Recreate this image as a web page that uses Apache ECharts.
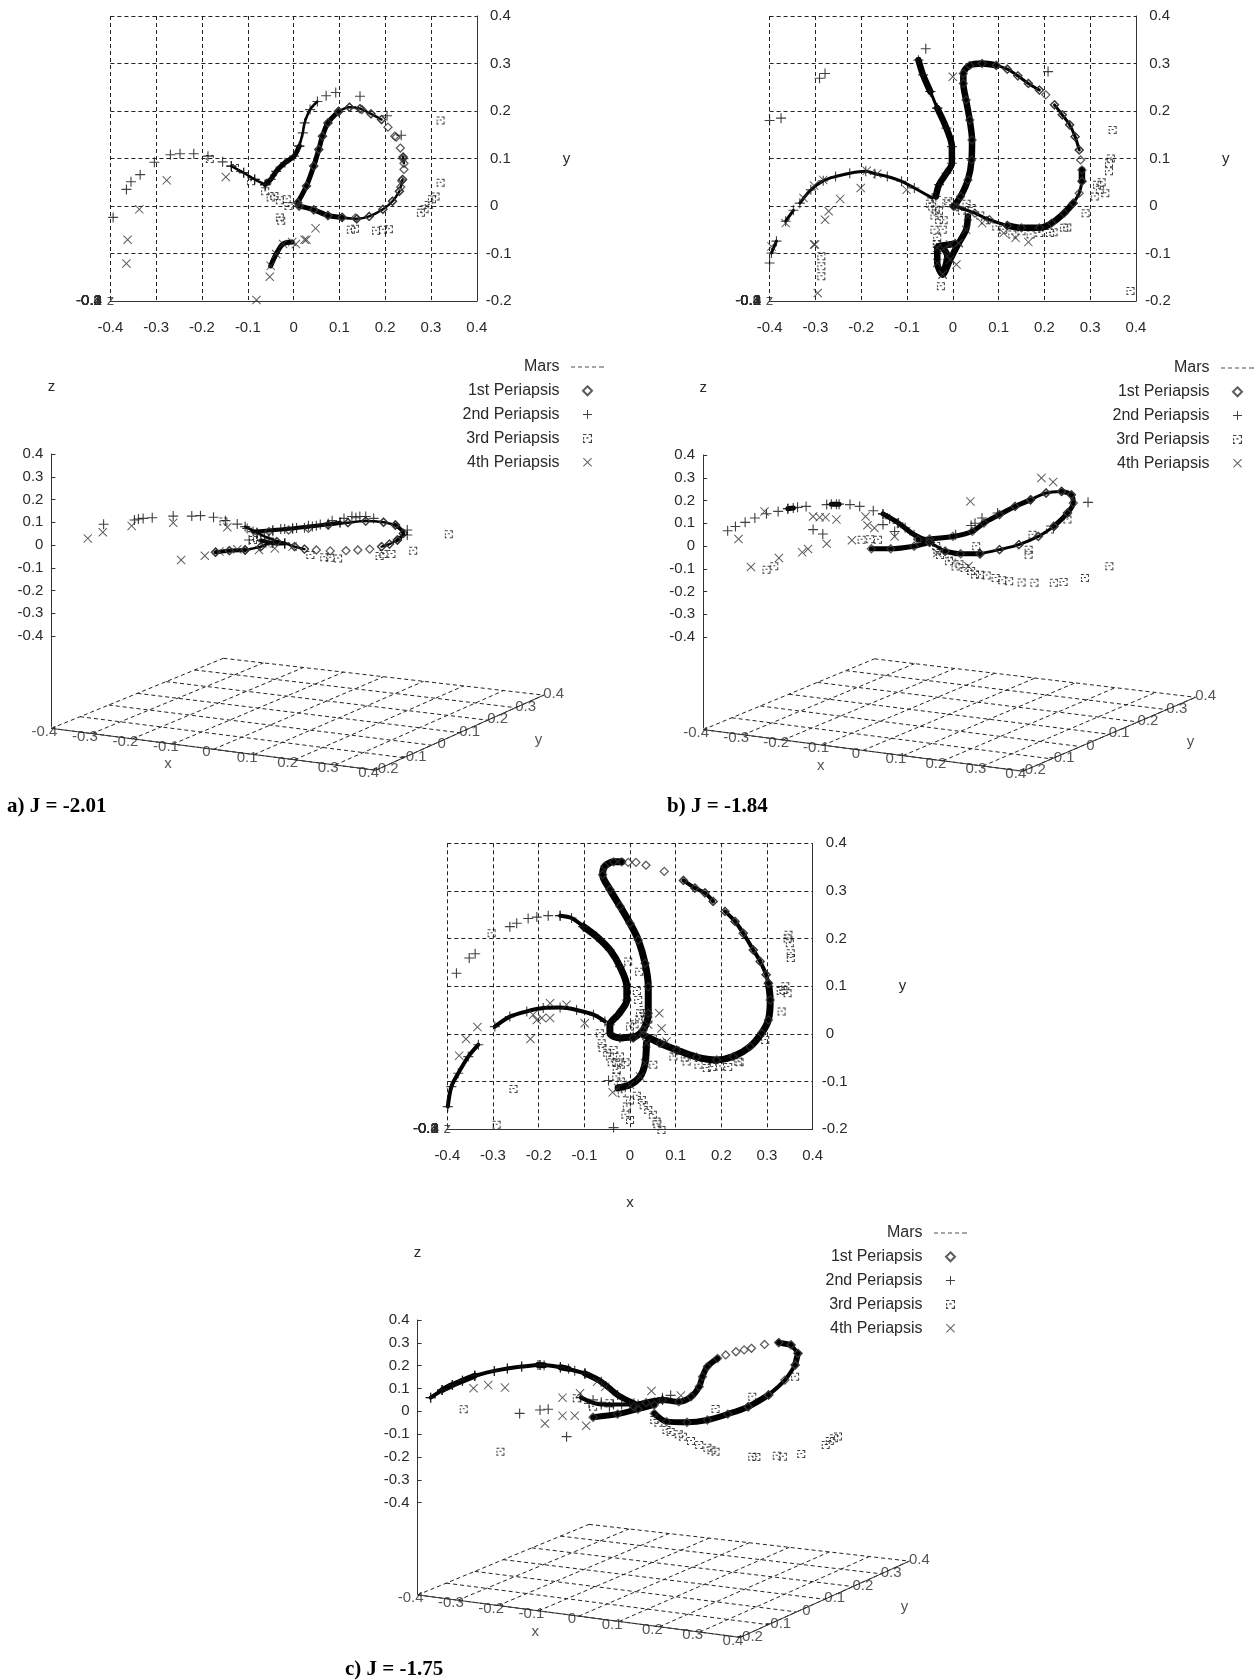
<!DOCTYPE html>
<html><head><meta charset="utf-8">
<script src="https://cdn.jsdelivr.net/npm/echarts@6/dist/echarts.min.js"></script>
<style>html,body{margin:0;padding:0;background:#fff}#c{width:1259px;height:1680px}</style></head>
<body><div id="c"></div>
<script>
const seriesNames = ['Mars','1st Periapsis','2nd Periapsis','3rd Periapsis','4th Periapsis'];
const titles = ['a) J = -2.01','b) J = -1.84','c) J = -1.75'];
const xTicks = [-0.4,-0.3,-0.2,-0.1,0,0.1,0.2,0.3,0.4];
const yTicks = [-0.2,-0.1,0,0.1,0.2,0.3,0.4];
const zTicks = [-0.4,-0.3,-0.2,-0.1,0,0.1,0.2,0.3,0.4];

/* ---- J = -2.01, top view (x, y) ---- */
const aXY1 = [[.009,.007],[.028,.042],[.044,.084],[.055,.119],[.063,.147],[.075,.175],[.098,.199],[.122,.208],[.145,.205],[.149,.203],[.169,.194],[.192,.182],[.206,.166],[.221,.147],[.224,.145],[.233,.122],[.239,.103],[.239,.1],[.241,.077],[.238,.056],[.236,.053],[.231,.031],[.216,.010],[.195,-.007],[.165,-.022],[.138,-.027],[.135,-.025],[.106,-.024],[.075,-.020],[.044,-.008],[.012,0]];
const aXY1Runs = [[[.009,.007],[.028,.042],[.044,.084],[.055,.119],[.063,.147],[.075,.175],[.098,.199]],[[.012,0],[.044,-.008],[.075,-.020],[.106,-.024]]];
const aXY1Thin = [[[.106,-.024],[.138,-.027],[.165,-.022],[.195,-.007],[.216,.010],[.231,.031]],[[.098,.199],[.122,.208],[.145,.205],[.169,.194],[.192,.182]],[[.239,.103],[.241,.09]],[[.238,.056],[.234,.04]]];
const aXY2 = [[-.394,-.024],[-.365,.035],[-.355,.051],[-.335,.066],[-.304,.092],[-.269,.108],[-.248,.110],[-.218,.110],[-.187,.105],[-.155,.093],[-.136,.084],[-.109,.070],[-.085,.056],[-.062,.045],[.071,.232],[.092,.239],[.145,.231],[.204,.19],[.235,.149]];
const aXY2Runs = [[[-.062,.045],[-.05,.056],[-.038,.073],[-.019,.091],[.001,.105],[.0125,.126]]];
const aXY2Thin = [[[-.136,.084],[-.109,.070],[-.085,.056],[-.062,.045]],[[.0125,.126],[.02,.154],[.024,.175],[.036,.203],[.052,.22]]];
const aXY3 = [[.321,.18],[.321,.049],[.302,.014],[.286,-.007],[.278,-.014],[.208,-.049],[.18,-.052],[.134,-.048],[-.027,-.031],[-.011,0],[-.015,.014],[-.042,.021],[-.062,.031],[-.093,.052],[-.128,.08],[-.183,.099],[-.05,.018],[-.03,.012],[.31,.02],[.295,.002],[.125,-.05],[.195,-.05],[-.03,-.024]];
const aXY3Runs = [];
const aXY3Thin = [];
const aXY4 = [[-.277,.054],[-.148,.061],[-.337,-.007],[-.3625,-.071],[-.365,-.121],[-.052,-.149],[-.081,-.198],[.048,-.047],[.028,-.071],[.005,-.08],[.024,-.071]];
const aXY4Runs = [[[-.05,-.126],[-.038,-.101],[-.023,-.08],[-.003,-.076]]];
const aXY4Thin = [];

/* ---- J = -2.01, oblique view (screen position along the plot, z) ---- */
const aZ1 = [[890,.051],[875,.022],[855,.004],[835,-.007],[805,-.018],[775,-.022],[745,-.025],[705,-.026],[670,-.022],[640,-.018],[615,-.007],[870,.088],[840,.1],[795,.105],[750,.098],[700,.088],[650,.073],[600,.066],[550,.059],[415,-.032],[450,-.025],[490,-.022],[530,-.007],[570,.015]];
const aZ1Runs = [[[415,-.032],[450,-.025],[490,-.022]],[[870,.088],[890,.051],[875,.022]]];
const aZ1Thin = [[[870,.088],[840,.1],[795,.105],[750,.098],[700,.088]],[[490,-.022],[530,-.007],[570,.015],[615,-.007],[640,-.018]],[[875,.022],[855,.004],[835,-.007]]];
const aZ2 = [[132,.091],[210,.11],[220,.114],[232,.117],[255,.12],[308,.127],[355,.127],[377,.129],[410,.122],[440,.107],[470,.092],[495,.073],[520,.054],[500,.022],[560,.066],[580,.07],[610,.073],[640,.076],[660,.081],[710,.107],[740,.117],[760,.125],[795,.125],[815,.117],[900,.066],[900,.044],[550,.015],[590,.007],[560,.06],[590,.07],[620,.075],[650,.085],[680,.09],[700,.095],[730,.1],[770,.12],[780,.125]];
const aZ2Runs = [[[510,.059],[610,.073],[670,.085],[730,.098]],[[530,.02],[560,.008],[590,.007]]];
const aZ2Thin = [[[490,.081],[520,.054],[550,.03],[590,.007]]];
const aZ3 = [[1005,.047],[915,-.025],[860,-.04],[830,-.048],[725,-.059],[690,-.054],[655,-.044],[510,.022],[530,.037],[550,.007],[435,.103],[840,-.04],[705,-.056],[520,.03]];
const aZ3Runs = [];
const aZ3Thin = [];
const aZ4 = [[92,.029],[130,.056],[203,.084],[308,.098],[445,.078],[328,-.066],[388,-.047],[425,-.029],[470,-.019],[525,-.022],[565,-.015],[610,-.007]];
const aZ4Runs = [];
const aZ4Thin = [];

/* ---- J = -1.84, top view ---- */
const bXY1 = [[.119,.288],[.142,.274],[.165,.258],[.189,.244],[.203,.234],[.222,.213],[.239,.192],[.255,.171],[.267,.146],[.276,.118],[.279,.097]];
const bXY1Runs = [[[.002,-.001],[.017,.02],[.033,.055],[.041,.097],[.042,.139],[.037,.181],[.029,.223],[.023,.258],[.023,.279],[.037,.296],[.064,.30],[.095,.296]],[[.282,.076],[.282,.052]],[[.263,.006],[.243,-.015],[.216,-.036],[.189,-.046],[.15,-.046],[.119,-.041]]];
const bXY1Thin = [[[.095,.296],[.119,.288],[.142,.274],[.165,.258],[.189,.244]],[[.222,.213],[.239,.192],[.255,.171],[.267,.146],[.276,.118]],[[.282,.052],[.276,.027],[.263,.006]],[[.119,-.041],[.08,-.029],[.048,-.015],[.009,-.002]]];
const bXY2 = [[-.059,.331],[-.279,.279],[-.291,.269],[.208,.283],[-.40,.18],[-.375,.185],[-.40,-.12]];
const bXY2Runs = [[[-.075,.307],[-.065,.276],[-.049,.241]],[[-.034,.206],[-.014,.164],[-.002,.125],[-.002,.09],[-.014,.069],[-.03,.045],[-.037,.02]]];
const bXY2Thin = [[[-.049,.241],[-.034,.206]],[[-.045,.017],[-.084,.038],[-.112,.052],[-.143,.062],[-.17,.068],[-.19,.073],[-.225,.069],[-.256,.062],[-.283,.053],[-.31,.034],[-.334,.006]],[[-.348,-.009],[-.365,-.032]],[[-.385,-.074],[-.396,-.099]]];
const bXY3 = [[.349,.16],[.341,.09],[.341,.073],[.321,.034],[.31,.02],[.29,-.015],[.243,-.046],[.212,-.057],[.189,-.057],[-.026,-.169],[.388,-.179],[-.287,-.106],[-.287,-.127],[-.287,-.148],[-.037,-.008],[-.03,-.029],[-.022,-.05],[-.034,-.067],[-.045,-.001],[-.014,.006],[.041,-.004],[.095,-.043],[.15,-.053],[.333,.027],[-.04,-.02],[-.05,.005],[-.03,-.01],[-.02,-.03],[-.01,.01],[.02,-.01],[.03,.005],[-.04,-.05],[-.035,-.08],[.06,-.02],[.07,-.03],[.11,-.05],[.13,-.06],[.17,-.06],[.22,-.055],[.25,-.045],[.315,.045],[.325,.05],[.345,.1]];
const bXY3Runs = [];
const bXY3Thin = [];
const bXY4 = [[0,.272],[-.303,-.081],[-.301,-.081],[-.188,.074],[-.165,.068],[-.201,.038],[-.246,.015],[-.271,-.011],[-.279,-.029],[-.295,-.183],[.008,-.123],[.165,-.076],[.137,-.067],[.111,-.057],[.064,-.036],[-.101,.034],[-.283,.055],[-.303,.043],[-.326,.017],[-.365,-.036],[-.396,-.085]];
const bXY4Runs = [[[.033,-.022],[.029,-.05],[.013,-.078],[-.006,-.113],[-.022,-.144],[-.034,-.12],[-.034,-.088],[-.006,-.081],[.013,-.078]],[[-.022,-.144],[-.012,-.105],[-.02,-.09]]];
const bXY4Thin = [];

/* ---- J = -1.84, oblique view ---- */
const bZ1 = [[763,.138],[803,.174],[843,.203],[883,.233],[923,.24],[948,.225],[938,.145],[903,.086],[863,.042],[813,.006],[763,-.016],[713,-.034]];
const bZ1Runs = [[[433,-.012],[483,-.012],[543,-.001],[583,.016]],[[623,-.023],[663,-.034],[713,-.034]],[[903,.086],[938,.145],[953,.189],[948,.225],[923,.24]],[[843,.203],[803,.174],[763,.138],[723,.101],[693,.064],[643,.042],[583,.031],[553,.028]]];
const bZ1Thin = [[[583,.016],[623,-.023]],[[713,-.034],[763,-.016],[813,.006],[863,.042],[903,.086]],[[923,.24],[883,.233],[843,.203]]];
const bZ2 = [[63,.067],[83,.086],[108,.104],[133,.123],[163,.142],[193,.152],[218,.164],[243,.17],[265,.174],[318,.182],[343,.184],[378,.182],[403,.174],[438,.155],[991,.192],[283,.072],[308,.053],[718,.123],[758,.145],[463,.094],[493,.064],[463,.141],[480,.12],[500,.1],[520,.08],[650,.05],[690,.09],[700,.1]];
const bZ2Runs = [[[463,.141],[503,.101],[543,.05],[583,.02]],[[218,.164],[232,.167]],[[330,.183],[350,.184]]];
const bZ2Thin = [];
const bZ3 = [[163,-.104],[183,-.089],[408,.028],[838,-.016],[838,-.038],[703,-.001],[1046,-.089],[983,-.141],[928,-.158],[903,-.162],[853,-.162],[788,-.155],[753,-.141],[713,-.126],[673,-.097],[633,-.067],[603,-.016],[938,.116],[848,.05],[893,.072],[600,0],[640,-.05],[660,-.08],[690,-.11],[730,-.13],[770,-.15],[820,-.16],[610,-.04],[650,-.09],[700,-.125],[430,.03],[450,.028]];
const bZ3Runs = [];
const bZ3Thin = [];
const bZ4 = [[91,.031],[123,-.092],[195,-.053],[255,-.028],[270,-.013],[318,.01],[383,.025],[158,.152],[283,.13],[300,.126],[315,.126],[343,.116],[418,.13],[423,.091],[441,.079],[493,.042],[688,.196],[871,.299],[901,.281],[683,-.089],[603,-.031]];
const bZ4Runs = [];
const bZ4Thin = [];

/* ---- J = -1.75, top view ---- */
const cXY1 = [[-.004,.36],[.013,.36],[.035,.354],[.075,.341],[.117,.322],[.142,.306],[.164,.296],[.182,.278],[.208,.257],[.23,.236],[.248,.211],[.27,.176],[.285,.152],[.298,.124]];
const cXY1Runs = [[[.007,-.009],[.029,.008],[.04,.043],[.04,.099],[.033,.148],[.018,.197],[0,.232],[-.022,.268],[-.044,.303],[-.06,.334],[-.055,.352],[-.036,.361],[-.018,.361]],[[.303,.106],[.307,.071],[.303,.029],[.288,.001],[.263,-.027],[.226,-.048],[.19,-.055],[.146,-.049],[.102,-.034],[.066,-.02],[.029,-.002]]];
const cXY1Thin = [[[.117,.322],[.142,.306],[.164,.296],[.182,.278]],[[.208,.257],[.23,.236],[.248,.211],[.27,.176],[.285,.152],[.298,.124],[.303,.106]]];
const cXY2 = [[-.38,.127],[-.352,.159],[-.339,.168],[-.263,.225],[-.248,.232],[-.223,.242],[-.204,.245],[-.179,.248],[-.153,.248],[-.036,-.197],[-.047,-.098]];
const cXY2Runs = [[[-.102,.225],[-.073,.204],[-.044,.176],[-.022,.141],[-.007,.099],[-.007,.071],[-.026,.04],[-.044,.019],[-.044,.001],[-.022,-.009],[.007,-.006]]];
const cXY2Thin = [[[-.153,.248],[-.128,.243],[-.102,.225]],[[-.055,.026],[-.08,.04],[-.117,.05],[-.153,.055],[-.19,.054],[-.226,.047],[-.263,.036],[-.296,.015]],[[-.332,-.023],[-.354,-.048],[-.376,-.083],[-.391,-.111],[-.399,-.153]]];
const cXY3 = [[.347,.208],[.352,.169],[.352,.159],[.336,.092],[.332,.047],[.296,-.013],[.237,-.058],[.197,-.069],[.168,-.072],[.124,-.058],[.095,-.048],[.051,-.065],[-.303,.211],[-.255,-.116],[-.292,-.191],[.069,-.202],[.058,-.184],[.04,-.16],[.026,-.139],[0,-.181],[-.007,-.153],[-.018,-.125],[-.029,-.076],[-.044,-.048],[-.062,-.02],[-.066,.001],[-.036,-.034],[-.022,-.048],[0,.015],[.018,.071],[-.004,.152],[.022,.043],[.033,.036],[-.06,-.03],[-.05,-.04],[-.04,-.06],[-.03,-.06],[-.02,-.065],[-.01,-.06],[-.03,-.09],[-.02,-.1],[0,-.14],[-.01,-.17],[.015,-.13],[.03,-.15],[.05,-.17],[.06,-.19],[.01,.02],[.03,.05],[.02,.03],[.04,.03],[.015,.09],[.02,.13],[.05,-.01],[.07,-.02],[.1,-.035],[.12,-.05],[.15,-.065],[.18,-.07],[.215,-.07],[.24,-.06],[.34,.1],[.33,.09],[.345,.085],[.345,.2],[.35,.19]];
const cXY3Runs = [];
const cXY3Thin = [];
const cXY4 = [[-.374,-.046],[-.359,-.011],[-.334,.014],[-.218,-.011],[-.204,.029],[-.193,.033],[-.175,.033],[-.175,.064],[-.212,.04],[-.099,.022],[-.139,.061],[.064,.043],[.069,.011],[.04,.019],[.08,-.016],[-.038,-.123]];
const cXY4Runs = [[[.036,-.02],[.033,-.062],[.022,-.09],[0,-.107],[-.026,-.114]]];
const cXY4Thin = [];

/* ---- J = -1.75, oblique view ---- */
const cZ1 = [[850,.293],[818,.276],[800,.269],[780,.261],[755,.247],[885,.301],[810,.02],[860,.072]];
const cZ1Runs = [[[430,-.026],[490,-.012],[540,.01],[580,.028]],[[580,-.009],[610,-.045],[660,-.048],[710,-.038],[760,-.012],[810,.02],[860,.072]],[[915,.291],[885,.301]],[[932,.254],[925,.203]],[[735,.232],[710,.196],[698,.152],[690,.108],[670,.064],[640,.042],[600,.05],[560,.038],[530,.02]]];
const cZ1Thin = [[[860,.072],[900,.137],[925,.203]],[[932,.254],[915,.291]]];
const cZ2 = [[32,.06],[60,.093],[85,.115],[110,.134],[140,.156],[188,.177],[220,.188],[255,.196],[300,.203],[350,.193],[385,.178],[410,.166],[250,-.009],[300,.006],[320,.009],[365,-.111],[420,.035],[430,.05],[450,.04],[470,.02],[480,.03],[500,.03],[600,.06],[620,.07]];
const cZ2Runs = [[[410,.166],[450,.13],[490,.072],[530,.035]],[[60,.093],[85,.115],[110,.134],[140,.156]],[[295,.203],[310,.202]],[[350,.193],[370,.186]],[[540,.03],[600,.05]]];
const cZ2Thin = [[[32,.06],[60,.093]],[[140,.156],[188,.177],[220,.188],[255,.196],[300,.203],[350,.193],[410,.166]],[[400,.06],[450,.03],[520,.03],[580,.04]]];
const cZ3 = [[113,.009],[203,-.177],[730,.01],[820,.064],[925,.152],[1020,-.118],[1000,-.147],[940,-.187],[895,-.199],[820,-.199],[730,-.177],[690,-.147],[650,-.111],[610,-.082],[580,-.038],[390,.057],[430,.02],[470,.035],[590,-.05],[620,-.09],[640,-.1],[670,-.13],[710,-.16],[720,-.17],[1010,-.13],[1030,-.11],[880,-.195],[830,-.2]];
const cZ3Runs = [];
const cZ3Thin = [];
const cZ4 = [[137,.101],[173,.115],[214,.104],[355,.06],[398,.079],[440,.13],[573,.089],[645,.069],[312,-.053],[355,-.019],[385,-.019],[413,-.063],[460,.108]];
const cZ4Runs = [];
const cZ4Thin = [];

/* floor corners in each oblique view: (x=-0.4,y=-0.2), (0.4,-0.2), (0.4,0.4), (-0.4,0.4) */
const aFloor = [[0,-.806],[820,-.99],[1245,-.66],[435,-.498]];
const bFloor = [[0,-.807],[823,-.99],[1268,-.665],[441,-.496]];
const cFloor = [[0,-.804],[790,-.99],[1205,-.656],[420,-.495]];

const PLUS='path://M4 0h1v4h4v1H5v4H4V5H0V4h4z';
const CROSS='path://M.7 0L4.5 3.8 8.3 0 9 .7 5.2 4.5 9 8.3 8.3 9 4.5 5.2 .7 9 0 8.3 3.8 4.5 0 .7z';
const DIAMOND='path://M4 0L8 4 4 8 0 4Z';
const FRAG='path://M0 0h3v1H0z M5 0h3v1H5z M7 1h1v2H7z M0 3h1v2H0z M3 3h2v1H3z M0 6h1v2H0z M1 7h1v1H1z M5 7h3v1H5z M7 5h1v2H7z';
const DASHES='path://M0 0h4v1H0z M7 0h4v1H7z M14 0h4v1H14z M21 0h4v1H21z M28 0h5v1H28z';
const markStyle = [
 {symbol:DASHES,symbolSize:[33,1],itemStyle:{color:'#222'}},
 {symbol:DIAMOND,symbolSize:8,itemStyle:{color:'rgba(255,255,255,0)',borderColor:'#333',borderWidth:1.3}},
 {symbol:PLUS,symbolSize:10,itemStyle:{color:'#111'}},
 {symbol:FRAG,symbolSize:8,itemStyle:{color:'#111'}},
 {symbol:CROSS,symbolSize:9,itemStyle:{color:'#333'}}
];
const FONT='"Liberation Sans",Arial,sans-serif', INK='#2a2a2a', TICKSIZE=15;

const panels = [
 {title:titles[0],titlePos:[7,807],xy:{left:110.4,top:16,w:366.4,h:285,yGap:86,xName:''},
  xySets:[aXY1,aXY2,aXY3,aXY4],xyRuns:[aXY1Runs,aXY2Runs,aXY3Runs,aXY4Runs],xyThin:[aXY1Thin,aXY2Thin,aXY3Thin,aXY4Thin],runW:5,thinW:2.5,
  side:{left:51.4,top:454,w:492.3,h:273,uMax:1245},floor:aFloor,xLab:[295,-.964],yLab:[1232,-.857],
  zSets:[aZ1,aZ2,aZ3,aZ4],zRuns:[aZ1Runs,aZ2Runs,aZ3Runs,aZ4Runs],zThin:[aZ1Thin,aZ2Thin,aZ3Thin,aZ4Thin],zW:4,zThinW:2.5,legend:{right:655,top:359}},
 {title:titles[1],titlePos:[667,807],xy:{left:769.6,top:16,w:366.4,h:285,yGap:86,xName:''},
  xySets:[bXY1,bXY2,bXY3,bXY4],xyRuns:[bXY1Runs,bXY2Runs,bXY3Runs,bXY4Runs],xyThin:[bXY1Thin,bXY2Thin,bXY3Thin,bXY4Thin],runW:6.5,thinW:3,
  side:{left:703.2,top:455,w:492.4,h:273,uMax:1268},floor:bFloor,xLab:[303,-.965],yLab:[1255,-.862],
  zSets:[bZ1,bZ2,bZ3,bZ4],zRuns:[bZ1Runs,bZ2Runs,bZ3Runs,bZ4Runs],zThin:[bZ1Thin,bZ2Thin,bZ3Thin,bZ4Thin],zW:5,zThinW:3,legend:{right:5,top:360}},
 {title:titles[2],titlePos:[345,1670],xy:{left:447.3,top:843.3,w:365.4,h:285.7,yGap:86,xName:'x'},
  xySets:[cXY1,cXY2,cXY3,cXY4],xyRuns:[cXY1Runs,cXY2Runs,cXY3Runs,cXY4Runs],xyThin:[cXY1Thin,cXY2Thin,cXY3Thin,cXY4Thin],runW:7,thinW:4,
  side:{left:417.6,top:1320,w:491.8,h:274,uMax:1205},floor:cFloor,xLab:[288,-.965],yLab:[1193,-.855],
  zSets:[cZ1,cZ2,cZ3,cZ4],zRuns:[cZ1Runs,cZ2Runs,cZ3Runs,cZ4Runs],zThin:[cZ1Thin,cZ2Thin,cZ3Thin,cZ4Thin],zW:6,zThinW:4,legend:{right:292,top:1225}}
];

function floorPt(c,x,y){
  const s=(x+.4)/.8,t=(y+.2)/.6;
  return [0,1].map(k=>(1-s)*(1-t)*c[0][k]+s*(1-t)*c[1][k]+s*t*c[2][k]+(1-s)*t*c[3][k]);
}
const grids=[],xAxes=[],yAxes=[],series=[],legends=[],graphics=[];
seriesNames.forEach((n,i)=>series.push(Object.assign({type:'scatter',name:n,data:[],xAxisIndex:0,yAxisIndex:0},markStyle[i])));
function addMarks(sets,runs,thin,w,tw,gi){
  sets.forEach((pts,i)=>{
    const all=pts.concat(...runs[i],...thin[i]);
    series.push(Object.assign({type:'scatter',name:seriesNames[i+1]+' points',data:all,xAxisIndex:gi,yAxisIndex:gi,clip:false,silent:true,z:4},markStyle[i+1]));
    const addRun=(r,width)=>series.push({type:'line',name:seriesNames[i+1]+' dense run',data:r,xAxisIndex:gi,yAxisIndex:gi,symbol:'none',smooth:0.3,clip:false,silent:true,z:3,
      lineStyle:{color:'#000',width,cap:'round',join:'round'}});
    runs[i].forEach(r=>addRun(r,w));
    thin[i].forEach(r=>addRun(r,tw));
  });
}
const DASH=[4,3];
panels.forEach(p=>{
  /* top view */
  const g=grids.length;
  grids.push({left:p.xy.left,top:p.xy.top,width:p.xy.w,height:p.xy.h,containLabel:false,show:false});
  xAxes.push({gridIndex:g,type:'value',min:-.4,max:.4,interval:.1,position:'bottom',
    name:p.xy.xName,nameLocation:'middle',nameGap:66,nameTextStyle:{color:INK,fontFamily:FONT,fontSize:TICKSIZE},
    axisLine:{show:true,onZero:false,lineStyle:{color:'#333',width:1}},axisTick:{show:false},
    axisLabel:{show:true,margin:19,color:INK,fontFamily:FONT,fontSize:TICKSIZE,showMinLabel:true,showMaxLabel:true},
    splitLine:{show:true,lineStyle:{color:'#222',width:1,type:DASH}}});
  yAxes.push({gridIndex:g,type:'value',min:-.2,max:.4,interval:.1,position:'right',
    name:'y',nameLocation:'middle',nameGap:p.xy.yGap,nameRotate:0,nameTextStyle:{color:INK,fontFamily:FONT,fontSize:TICKSIZE},
    axisLine:{show:true,onZero:false,lineStyle:{color:'#333',width:1}},axisTick:{show:false},
    axisLabel:{show:true,margin:9,align:'left',color:INK,fontFamily:FONT,fontSize:TICKSIZE,showMinLabel:true,showMaxLabel:true,
      formatter:v=>(v<0?'':'\u00A0')+String(+v.toFixed(1))},
    splitLine:{show:true,lineStyle:{color:'#222',width:1,type:DASH}}});
  addMarks(p.xySets,p.xyRuns,p.xyThin,p.runW,p.thinW,g);
  /* z labels printed on top of one another at the view-axis corner */
  series.push({type:'scatter',name:'z ticks at corner',xAxisIndex:g,yAxisIndex:g,clip:false,silent:true,symbolSize:1,itemStyle:{color:'rgba(0,0,0,0)'},
    data:zTicks.map(v=>({value:[-.4,-.2],label:{formatter:String(v)}})),
    label:{show:true,position:'left',distance:8,color:INK,fontFamily:FONT,fontSize:TICKSIZE}});
  series.push({type:'scatter',name:'z name at corner',xAxisIndex:g,yAxisIndex:g,clip:false,silent:true,symbolSize:1,itemStyle:{color:'rgba(0,0,0,0)'},
    data:[[-.4,-.2]],label:{show:true,position:'inside',formatter:'z',color:INK,fontFamily:FONT,fontSize:TICKSIZE}});

  /* oblique view */
  const h=grids.length;
  grids.push({left:p.side.left,top:p.side.top,width:p.side.w,height:p.side.h,show:false});
  xAxes.push({gridIndex:h,type:'value',min:0,max:p.side.uMax,show:false,splitLine:{show:false}});
  yAxes.push({gridIndex:h,type:'value',min:-.8,max:.4,position:'left',
    name:'z',nameLocation:'end',nameGap:60,nameTextStyle:{color:INK,fontFamily:FONT,fontSize:TICKSIZE},
    axisLine:{show:true,onZero:false,lineStyle:{color:'#333',width:1}},
    axisTick:{show:true,inside:true,length:4,customValues:zTicks,lineStyle:{color:'#333'}},
    axisLabel:{show:true,margin:8,color:INK,fontFamily:FONT,fontSize:TICKSIZE,customValues:zTicks,formatter:v=>String(+v.toFixed(1))},
    splitLine:{show:false}});
  const dashed={color:'#222',width:1,type:DASH}, solid={color:'#333',width:1};
  const floorLine=(pts,st)=>series.push({type:'line',name:'floor',data:pts,xAxisIndex:h,yAxisIndex:h,symbol:'none',clip:false,silent:true,z:1,lineStyle:st});
  xTicks.forEach(x=>floorLine([floorPt(p.floor,x,-.2),floorPt(p.floor,x,.4)],dashed));
  yTicks.forEach(y=>floorLine([floorPt(p.floor,-.4,y),floorPt(p.floor,.4,y)],dashed));
  floorLine([floorPt(p.floor,-.4,-.2),floorPt(p.floor,.4,-.2),floorPt(p.floor,.4,.4)],solid);
  const tickLab=(pts,ox,oy)=>series.push({type:'scatter',name:'floor ticks',xAxisIndex:h,yAxisIndex:h,clip:false,silent:true,symbolSize:1,itemStyle:{color:'rgba(0,0,0,0)'},
    data:pts,label:{show:true,position:'inside',offset:[ox,oy],color:INK,fontFamily:FONT,fontSize:TICKSIZE,formatter:q=>String(q.data.t)}});
  tickLab(xTicks.map(x=>({value:floorPt(p.floor,x,-.2),t:x})),-7,3);
  tickLab(yTicks.map(y=>({value:floorPt(p.floor,.4,y),t:y})),10,-1);
  series.push({type:'scatter',name:'floor names',xAxisIndex:h,yAxisIndex:h,clip:false,silent:true,symbolSize:1,itemStyle:{color:'rgba(0,0,0,0)'},
    data:[{value:p.xLab,t:'x'},{value:p.yLab,t:'y'}],label:{show:true,position:'inside',color:INK,fontFamily:FONT,fontSize:TICKSIZE,formatter:q=>q.data.t}});
  addMarks(p.zSets,p.zRuns,p.zThin,p.zW,p.zThinW,h);

  legends.push({data:seriesNames,orient:'vertical',align:'right',right:p.legend.right,top:p.legend.top,itemWidth:33,itemHeight:9,itemGap:7.8,selectedMode:false,padding:0,
    textStyle:{color:INK,fontFamily:FONT,fontSize:16,padding:[0,6.5,0,0]}});
  graphics.push({type:'text',x:p.titlePos[0],y:p.titlePos[1],style:{text:p.title,fill:'#000',font:'bold 21px "Liberation Serif",serif',textVerticalAlign:'middle'}});
});
const chart=echarts.init(document.getElementById('c'),null,{renderer:'canvas'});
chart.setOption({backgroundColor:'#fff',animation:false,grid:grids,xAxis:xAxes,yAxis:yAxes,series,legend:legends,graphic:{elements:graphics}});
</script></body></html>
